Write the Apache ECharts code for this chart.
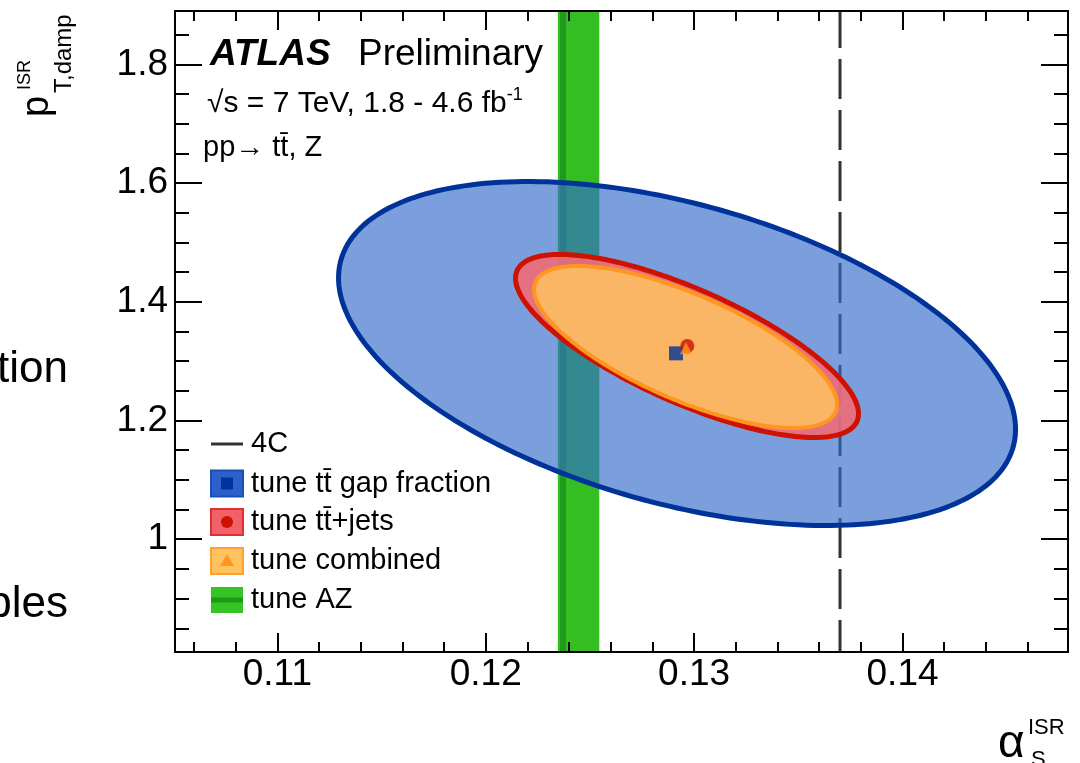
<!DOCTYPE html>
<html><head><meta charset="utf-8">
<script src="https://cdn.jsdelivr.net/npm/echarts@6/dist/echarts.min.js"></script>
<style>html,body{margin:0;padding:0;background:#fff}#c{width:1080px;height:763px}</style>
</head><body><div id="c"></div>
<script>
// ---- axes ----
const xRange = [0.10509, 0.14794];
const yRange = [0.81, 1.89];
const xMajorTicks = [0.11, 0.12, 0.13, 0.14];
const xMinorTicks = [0.106, 0.108, 0.112, 0.114, 0.116, 0.118, 0.122, 0.124, 0.126, 0.128, 0.132, 0.134, 0.136, 0.138, 0.142, 0.144, 0.146];
const yMajorTicks = [1.0, 1.2, 1.4, 1.6, 1.8];
const yMinorTicks = [0.85, 0.9, 0.95, 1.05, 1.1, 1.15, 1.25, 1.3, 1.35, 1.45, 1.5, 1.55, 1.65, 1.7, 1.75, 1.85];
// ---- 1-sigma contours: [alpha centre, pT centre, sigma alpha, sigma pT, correlation] ----
const gapFractionContour = [0.12918, 1.3129, 0.016243, 0.2898, -0.44];
const ttJetsContour = [0.129659, 1.3256, 0.008229, 0.1542, -0.74];
const combinedContour = [0.129587, 1.3239, 0.00727, 0.1365, -0.71];
// ---- best-fit tunes [alpha, pT] ----
const gapFractionTune = [0.129131, 1.3132];
const ttJetsTune = [0.129674, 1.3256];
const combinedTune = [0.129611, 1.3217];
// ---- tune AZ band, AZ central value, 4C value ----
const tuneAZBand = [0.12346, 0.12545];
const tuneAZ = [0.12371];
const tune4C = [0.137];

const FONT = '"Liberation Sans", Arial, Helvetica, sans-serif';
const chart = echarts.init(document.getElementById('c'), null, {renderer: 'canvas'});

function ellipseSeries(name, p, fill, stroke, lw, z) {
  return {
    type: 'custom', name: name, z: z, silent: true,
    data: [p],
    encode: {x: 0, y: 1},
    renderItem: function (params, api) {
      const cx = api.value(0), cy = api.value(1), sx = api.value(2), sy = api.value(3), r = api.value(4);
      const s = Math.sqrt(1 - r * r);
      const pts = [];
      const N = 240;
      for (let i = 0; i < N; i++) {
        const t = 2 * Math.PI * i / N;
        pts.push(api.coord([cx + sx * Math.cos(t), cy + sy * (r * Math.cos(t) + s * Math.sin(t))]));
      }
      return {type: 'polygon', shape: {points: pts}, style: {fill: fill, stroke: stroke, lineWidth: lw}};
    }
  };
}
function vLineSeries(name, vals, color, width, dash, z) {
  return {
    type: 'custom', name: name, z: z, silent: true,
    data: vals.map(v => [v]),
    encode: {x: 0},
    renderItem: function (params, api) {
      const p0 = api.coord([api.value(0), yRange[1]]);
      const p1 = api.coord([api.value(0), yRange[0]]);
      return {type: 'line', shape: {x1: p0[0], y1: p0[1], x2: p1[0], y2: p1[1]},
        style: {stroke: color, lineWidth: width, lineDash: dash, lineDashOffset: 3}};
    }
  };
}

function xAxisDef(pos, ticks, len, labels, line) {
  return {
    type: 'value', position: pos, min: xRange[0], max: xRange[1], z: 10,
    axisLine: {show: line, onZero: false, lineStyle: {color: '#000', width: 2}},
    axisTick: {show: true, inside: true, length: len, customValues: ticks, lineStyle: {color: '#000', width: 2}},
    axisLabel: labels ? {show: true, customValues: ticks, margin: 4, color: '#000', fontSize: 37, fontFamily: FONT,
      formatter: v => v.toFixed(2)} : {show: false},
    splitLine: {show: false}, minorTick: {show: false}
  };
}
function yAxisDef(pos, ticks, len, labels, line) {
  return {
    type: 'value', position: pos, min: yRange[0], max: yRange[1], z: 10,
    axisLine: {show: line, onZero: false, lineStyle: {color: '#000', width: 2}},
    axisTick: {show: true, inside: true, length: len, customValues: ticks, lineStyle: {color: '#000', width: 2}},
    axisLabel: labels ? {show: true, customValues: ticks, margin: 7, color: '#000', fontSize: 37, fontFamily: FONT,
      formatter: v => (Math.abs(v - 1) < 1e-9 ? '1' : v.toFixed(1))} : {show: false},
    splitLine: {show: false}, minorTick: {show: false}
  };
}

// legend graphic
const legY = [444, 483.5, 522, 561, 600];
const legendTexts = ['4C', 'tune t\u0074\u0304 gap fraction', 'tune t\u0074\u0304+jets', 'tune combined', 'tune AZ'];
const g = [];
g.push({type: 'line', shape: {x1: 211, y1: legY[0], x2: 243, y2: legY[0]}, style: {stroke: '#333', lineWidth: 3}, z: 100});
g.push({type: 'rect', shape: {x: 211, y: legY[1] - 13, width: 32, height: 26}, style: {fill: '#2c61cc', stroke: '#1c4fb4', lineWidth: 2}, z: 100});
g.push({type: 'rect', shape: {x: 221, y: legY[1] - 6, width: 12, height: 12}, style: {fill: '#003399'}, z: 101});
g.push({type: 'rect', shape: {x: 211, y: legY[2] - 13, width: 32, height: 26}, style: {fill: '#f2606a', stroke: '#dd3030', lineWidth: 2}, z: 100});
g.push({type: 'circle', shape: {cx: 227, cy: legY[2], r: 6}, style: {fill: '#cc1100'}, z: 101});
g.push({type: 'rect', shape: {x: 211, y: legY[3] - 13, width: 32, height: 26}, style: {fill: '#ffc25e', stroke: '#ffa030', lineWidth: 2}, z: 100});
g.push({type: 'polygon', shape: {points: [[227, legY[3] - 7], [234, legY[3] + 5], [220, legY[3] + 5]]}, style: {fill: '#ff961e'}, z: 101});
g.push({type: 'rect', shape: {x: 211, y: legY[4] - 13, width: 32, height: 26}, style: {fill: '#35c424'}, z: 100});
g.push({type: 'line', shape: {x1: 211, y1: legY[4], x2: 243, y2: legY[4]}, style: {stroke: '#1c9a18', lineWidth: 5}, z: 101});
legendTexts.forEach((t, i) => g.push({type: 'text', x: 251, y: legY[i], z: 100,
  style: {text: t, font: '29px ' + FONT, fill: '#000', align: 'left', verticalAlign: 'middle'}}));

// labels
g.push({type: 'text', x: 210, y: 55, z: 100, style: {text: 'ATLAS', font: 'italic bold 37px ' + FONT, fill: '#000', verticalAlign: 'middle'}});
g.push({type: 'text', x: 358, y: 55, z: 100, style: {text: 'Preliminary', font: '37px ' + FONT, fill: '#000', verticalAlign: 'middle'}});
g.push({type: 'text', x: 207, y: 104, z: 100, style: {
  text: '{a|\u221As = 7 TeV, 1.8 - 4.6 fb}{s|-1}', fill: '#000', verticalAlign: 'middle',
  rich: {a: {font: '30px ' + FONT, fill: '#000', lineHeight: 36}, s: {font: '18px ' + FONT, fill: '#000', verticalAlign: 'top', lineHeight: 19}}}});
g.push({type: 'text', x: 203, y: 148, z: 100, style: {text: 'pp\u2192 t\u0074\u0304, Z', font: '29px ' + FONT, fill: '#000', verticalAlign: 'middle'}});

// y axis title (rotated)
g.push({type: 'text', x: 38, y: 117, rotation: Math.PI / 2, z: 100, style: {text: 'p', font: '38px ' + FONT, fill: '#000', align: 'left', verticalAlign: 'middle'}});
g.push({type: 'text', x: 25, y: 90, rotation: Math.PI / 2, z: 100, style: {text: 'ISR', font: '18px ' + FONT, fill: '#000', align: 'left', verticalAlign: 'middle'}});
g.push({type: 'text', x: 64, y: 93, rotation: Math.PI / 2, z: 100, style: {text: 'T,damp', font: '24px ' + FONT, fill: '#000', align: 'left', verticalAlign: 'middle'}});
// x axis title
g.push({type: 'text', x: 998, y: 744, z: 100, style: {text: '\u03B1', font: '46px ' + FONT, fill: '#000', verticalAlign: 'middle'}});
g.push({type: 'text', x: 1028, y: 728, z: 100, style: {text: 'ISR', font: '22px ' + FONT, fill: '#000', verticalAlign: 'middle'}});
g.push({type: 'text', x: 1031, y: 760, z: 100, style: {text: 'S', font: '22px ' + FONT, fill: '#000', verticalAlign: 'middle'}});
// clipped slide text at left
g.push({type: 'text', x: 68, y: 370, z: 100, style: {text: 'gap fraction', font: '44px ' + FONT, fill: '#000', align: 'right', verticalAlign: 'middle'}});
g.push({type: 'text', x: 68, y: 605, z: 100, style: {text: 'observables', font: '44px ' + FONT, fill: '#000', align: 'right', verticalAlign: 'middle'}});

const option = {
  backgroundColor: '#fff',
  animation: false,
  grid: {left: 175, right: 12, top: 11, bottom: 111},
  xAxis: [
    xAxisDef('bottom', xMajorTicks, 19, true, true),
    xAxisDef('bottom', xMinorTicks, 10, false, false),
    xAxisDef('top', xMajorTicks, 19, false, true),
    xAxisDef('top', xMinorTicks, 10, false, false)
  ],
  yAxis: [
    yAxisDef('left', yMajorTicks, 27, true, true),
    yAxisDef('left', yMinorTicks, 14, false, false),
    yAxisDef('right', yMajorTicks, 27, false, true),
    yAxisDef('right', yMinorTicks, 14, false, false)
  ],
  series: [
    {
      type: 'custom', name: 'tune AZ band', z: 1, silent: true,
      data: [tuneAZBand],
      encode: {x: [0, 1]},
      renderItem: function (params, api) {
        const p0 = api.coord([api.value(0), yRange[1]]);
        const p1 = api.coord([api.value(1), yRange[0]]);
        return {type: 'rect', shape: {x: p0[0], y: p0[1], width: p1[0] - p0[0], height: p1[1] - p0[1]}, style: {fill: '#35be22'}};
      }
    },
    vLineSeries('tune AZ', tuneAZ, '#1f9a1c', 6, null, 1),
    vLineSeries('4C', tune4C, '#333333', 3, [40, 11], 1),
    ellipseSeries('tune tt gap fraction', gapFractionContour, 'rgba(52,107,203,0.65)', '#003399', 5, 2),
    ellipseSeries('tune tt+jets', ttJetsContour, 'rgba(240,107,120,0.9)', '#cf1100', 5, 3),
    ellipseSeries('tune combined', combinedContour, 'rgba(253,190,98,0.9)', '#ff9620', 4, 4),
    {type: 'scatter', name: 'gap fraction best fit', z: 5, silent: true, data: [gapFractionTune], symbol: 'rect', symbolSize: 14, itemStyle: {color: '#003399'}},
    {type: 'scatter', name: 'tt+jets best fit', z: 6, silent: true, data: [ttJetsTune], symbol: 'circle', symbolSize: 14, itemStyle: {color: '#cc1100'}},
    {type: 'scatter', name: 'combined best fit', z: 7, silent: true, data: [combinedTune], symbol: 'triangle', symbolSize: 12, itemStyle: {color: '#ff961e'}}
  ],
  graphic: {elements: g}
};
chart.setOption(option);
</script></body></html>
